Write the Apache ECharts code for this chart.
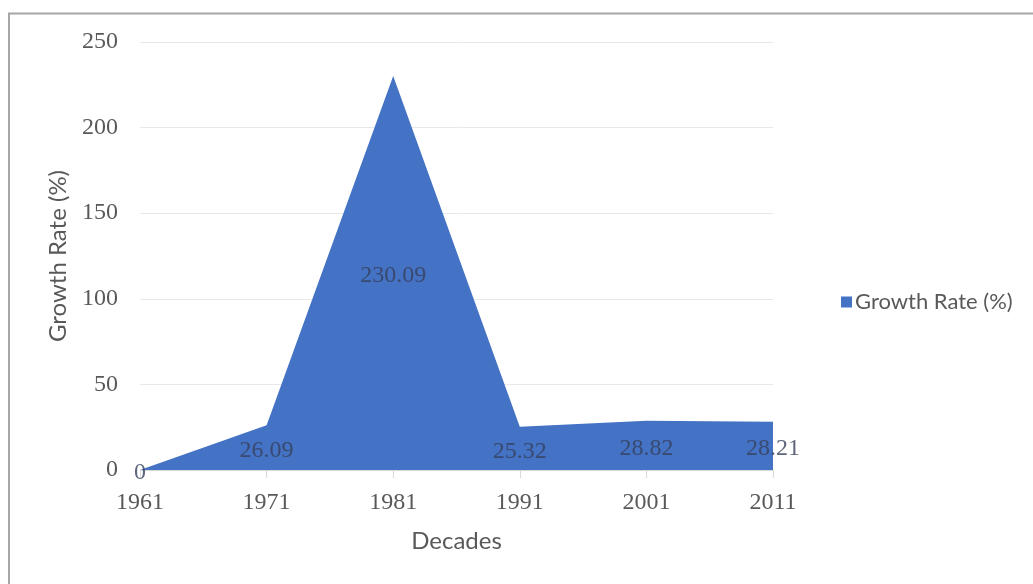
<!DOCTYPE html>
<html>
<head>
<meta charset="utf-8">
<script src="https://cdn.jsdelivr.net/npm/echarts@6/dist/echarts.min.js"></script>
<style>html,body{margin:0;padding:0;background:#fff}#c{width:1033px;height:584px}</style>
</head>
<body>
<div id="c"></div>
<script>
const categories = ['1961', '1971', '1981', '1991', '2001', '2011'];
const growthRate = [0, 26.09, 230.09, 25.32, 28.82, 28.21];
const labelText = ['0', '26.09', '230.09', '25.32', '28.82', '28.21'];
const yTicks = [0, 50, 100, 150, 200, 250];
const seriesName = 'Growth Rate (%)';

const chart = echarts.init(document.getElementById('c'), null, {renderer: 'canvas'});
const serif = '"Liberation Serif", "DejaVu Serif", serif';
const sans = 'Lato, "Open Sans", sans-serif';

chart.setOption({
  animation: false,
  backgroundColor: '#fff',
  graphic: [{
    type: 'polyline',
    shape: {points: [[9, 584], [9, 13.5], [1033, 13.5]]},
    style: {stroke: '#a6a6a6', lineWidth: 2, fill: null},
    silent: true
  }],
  grid: {left: 140, right: 260, top: 42, bottom: 114},
  legend: {
    data: [{name: seriesName, icon: 'rect'}],
    left: 836, top: 286,
    itemWidth: 11, itemHeight: 11, itemGap: 4,
    textStyle: {fontFamily: sans, fontSize: 22, color: '#595959', padding: [0, 0, 0, -2]}
  },
  xAxis: {
    type: 'category',
    data: categories,
    boundaryGap: false,
    name: 'Decades',
    nameLocation: 'middle',
    nameGap: 59,
    nameMoveOverlap: false,
    nameTextStyle: {fontFamily: sans, fontSize: 24, color: '#595959'},
    axisLine: {show: true, lineStyle: {color: '#d9d9d9', width: 1}},
    axisTick: {show: true, alignWithLabel: true, length: 8, lineStyle: {color: '#d9d9d9'}},
    axisLabel: {fontFamily: serif, fontSize: 24, color: '#595959', margin: 21},
    splitLine: {show: false}
  },
  yAxis: {
    type: 'value',
    min: 0, max: 250, interval: 50,
    name: 'Growth Rate (%)',
    nameLocation: 'middle',
    nameGap: 70,
    nameRotate: 90,
    nameMoveOverlap: false,
    nameTextStyle: {fontFamily: sans, fontSize: 24, color: '#595959'},
    axisLine: {show: false},
    axisTick: {show: false},
    axisLabel: {fontFamily: serif, fontSize: 24, color: '#595959', margin: 22,
      formatter: v => yTicks.includes(v) ? String(v) : ''},
    splitLine: {lineStyle: {color: '#e8e8e8', width: 1}}
  },
  series: [{
    name: seriesName,
    type: 'line',
    data: growthRate,
    symbol: 'none',
    lineStyle: {width: 0, color: '#4472C4'},
    itemStyle: {color: '#4472C4'},
    areaStyle: {color: '#4472C4', opacity: 1},
    z: 2
  }, {
    name: 'labels',
    type: 'scatter',
    data: growthRate.map(v => v / 2),
    symbol: 'circle',
    symbolSize: 1,
    itemStyle: {color: 'rgba(0,0,0,0)'},
    label: {
      show: true,
      position: 'inside',
      offset: [0, 3],
      fontFamily: serif,
      fontSize: 24,
      color: '#36405a',
      formatter: p => labelText[p.dataIndex]
    },
    z: 5,
    silent: true
  }]
});
</script>
</body>
</html>
